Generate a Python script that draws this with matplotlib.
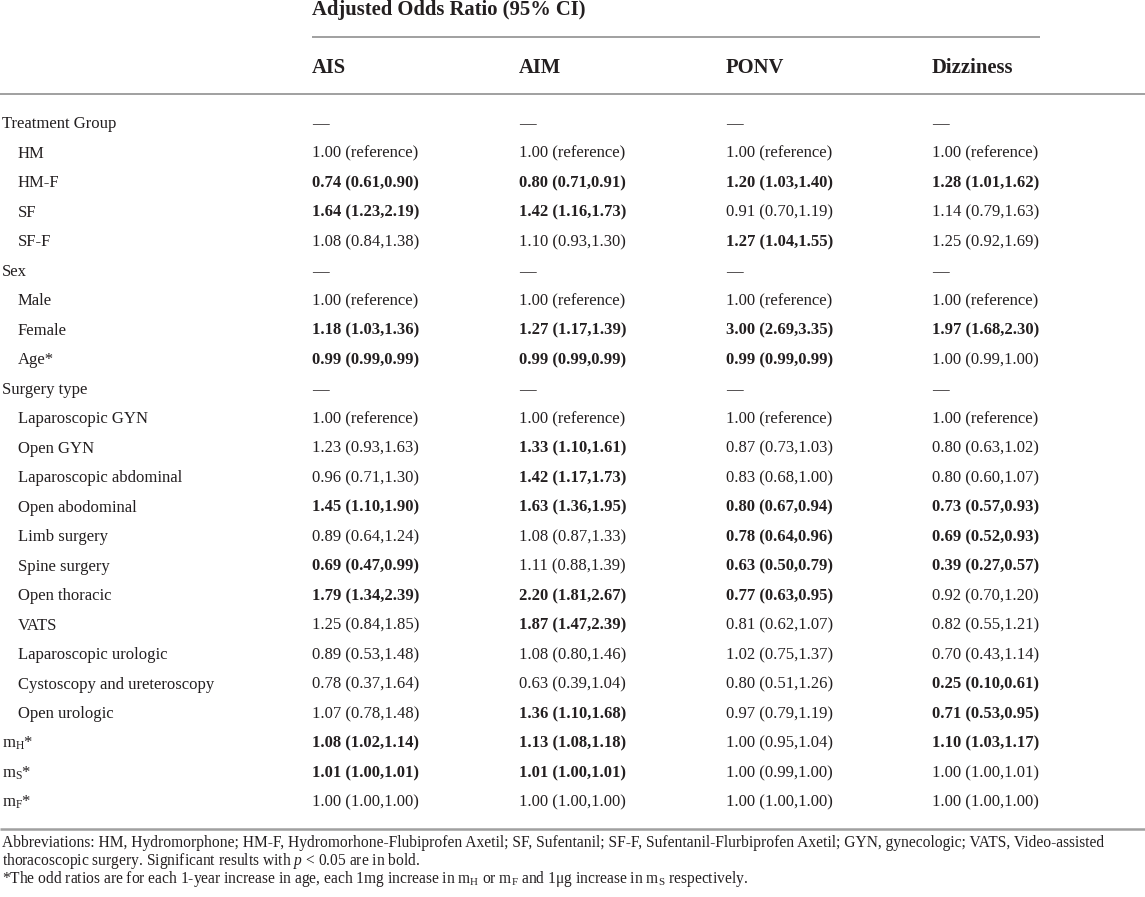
import matplotlib
matplotlib.use("Agg")
import matplotlib.pyplot as plt

plt.rcParams['font.family'] = ['Liberation Serif', 'DejaVu Serif']
plt.rcParams['mathtext.fontset'] = 'custom'
plt.rcParams['mathtext.rm'] = 'Liberation Serif'
plt.rcParams['mathtext.it'] = 'Liberation Serif:italic'
plt.rcParams['mathtext.bf'] = 'Liberation Serif:bold'

# ---------------- data ----------------
header_title = "Adjusted Odds Ratio (95% CI)"
columns = ["AIS", "AIM", "PONV", "Dizziness"]

row_labels = [
    "Treatment Group", "HM", "HM-F", "SF", "SF-F",
    "Sex", "Male", "Female", "Age*",
    "Surgery type", "Laparoscopic GYN", "Open GYN", "Laparoscopic abdominal",
    "Open abodominal", "Limb surgery", "Spine surgery", "Open thoracic", "VATS",
    "Laparoscopic urologic", "Cystoscopy and ureteroscopy", "Open urologic",
    r"m$_\mathregular{H}$*", r"m$_\mathregular{S}$*", r"m$_\mathregular{F}$*",
]
row_indent = [0, 1, 1, 1, 1, 0, 1, 1, 1, 0, 1, 1, 1, 1, 1, 1, 1, 1, 1, 1, 1, 0, 0, 0]

ais = ["—", "1.00 (reference)", "0.74 (0.61,0.90)", "1.64 (1.23,2.19)", "1.08 (0.84,1.38)",
       "—", "1.00 (reference)", "1.18 (1.03,1.36)", "0.99 (0.99,0.99)",
       "—", "1.00 (reference)", "1.23 (0.93,1.63)", "0.96 (0.71,1.30)", "1.45 (1.10,1.90)",
       "0.89 (0.64,1.24)", "0.69 (0.47,0.99)", "1.79 (1.34,2.39)", "1.25 (0.84,1.85)",
       "0.89 (0.53,1.48)", "0.78 (0.37,1.64)", "1.07 (0.78,1.48)",
       "1.08 (1.02,1.14)", "1.01 (1.00,1.01)", "1.00 (1.00,1.00)"]
ais_bold = [0, 0, 1, 1, 0, 0, 0, 1, 1, 0, 0, 0, 0, 1, 0, 1, 1, 0, 0, 0, 0, 1, 1, 0]

aim = ["—", "1.00 (reference)", "0.80 (0.71,0.91)", "1.42 (1.16,1.73)", "1.10 (0.93,1.30)",
       "—", "1.00 (reference)", "1.27 (1.17,1.39)", "0.99 (0.99,0.99)",
       "—", "1.00 (reference)", "1.33 (1.10,1.61)", "1.42 (1.17,1.73)", "1.63 (1.36,1.95)",
       "1.08 (0.87,1.33)", "1.11 (0.88,1.39)", "2.20 (1.81,2.67)", "1.87 (1.47,2.39)",
       "1.08 (0.80,1.46)", "0.63 (0.39,1.04)", "1.36 (1.10,1.68)",
       "1.13 (1.08,1.18)", "1.01 (1.00,1.01)", "1.00 (1.00,1.00)"]
aim_bold = [0, 0, 1, 1, 0, 0, 0, 1, 1, 0, 0, 1, 1, 1, 0, 0, 1, 1, 0, 0, 1, 1, 1, 0]

ponv = ["—", "1.00 (reference)", "1.20 (1.03,1.40)", "0.91 (0.70,1.19)", "1.27 (1.04,1.55)",
        "—", "1.00 (reference)", "3.00 (2.69,3.35)", "0.99 (0.99,0.99)",
        "—", "1.00 (reference)", "0.87 (0.73,1.03)", "0.83 (0.68,1.00)", "0.80 (0.67,0.94)",
        "0.78 (0.64,0.96)", "0.63 (0.50,0.79)", "0.77 (0.63,0.95)", "0.81 (0.62,1.07)",
        "1.02 (0.75,1.37)", "0.80 (0.51,1.26)", "0.97 (0.79,1.19)",
        "1.00 (0.95,1.04)", "1.00 (0.99,1.00)", "1.00 (1.00,1.00)"]
ponv_bold = [0, 0, 1, 0, 1, 0, 0, 1, 1, 0, 0, 0, 0, 1, 1, 1, 1, 0, 0, 0, 0, 0, 0, 0]

dizziness = ["—", "1.00 (reference)", "1.28 (1.01,1.62)", "1.14 (0.79,1.63)", "1.25 (0.92,1.69)",
             "—", "1.00 (reference)", "1.97 (1.68,2.30)", "1.00 (0.99,1.00)",
             "—", "1.00 (reference)", "0.80 (0.63,1.02)", "0.80 (0.60,1.07)", "0.73 (0.57,0.93)",
             "0.69 (0.52,0.93)", "0.39 (0.27,0.57)", "0.92 (0.70,1.20)", "0.82 (0.55,1.21)",
             "0.70 (0.43,1.14)", "0.25 (0.10,0.61)", "0.71 (0.53,0.95)",
             "1.10 (1.03,1.17)", "1.00 (1.00,1.01)", "1.00 (1.00,1.00)"]
dizziness_bold = [0, 0, 1, 0, 0, 0, 0, 1, 0, 0, 0, 0, 0, 1, 1, 1, 0, 0, 0, 1, 1, 1, 0, 0]

footnotes = [
    "Abbreviations: HM, Hydromorphone; HM-F, Hydromorhone-Flubiprofen Axetil; SF, Sufentanil; "
    "SF-F, Sufentanil-Flurbiprofen Axetil; GYN, gynecologic; VATS, Video-assisted",
    r"thoracoscopic surgery. Significant results with $p$ < 0.05 are in bold.",
    r"*The odd ratios are for each 1-year increase in age, each 1mg increase in "
    r"m$_\mathregular{H}$ or m$_\mathregular{F}$ and 1μg increase in m$_\mathregular{S}$ respectively.",
]

# ---------------- layout ----------------
W, H = 1145, 897
fig = plt.figure(figsize=(W / 100, H / 100), dpi=100)
ax = fig.add_axes([0, 0, 1, 1])
ax.set_xlim(0, W)
ax.set_ylim(H, 0)
ax.axis("off")

TXT = "#231f20"
LINE = "#a0a0a0"
FS = 12.0
HFS = 14.9

col_x = [312, 519, 726, 932]
row_base0, row_dy = 128.3, 29.5

ax.text(312, 15.5, header_title, fontsize=HFS, fontweight="bold", color=TXT, va="baseline", ha="left")
ax.plot([312, 1040], [37.5, 37.5], color=LINE, lw=1.4, solid_capstyle="butt")
for x, c in zip(col_x, columns):
    ax.text(x, 73, c, fontsize=HFS, fontweight="bold", color=TXT, va="baseline", ha="left")
ax.plot([0, W], [94, 94], color=LINE, lw=1.4, solid_capstyle="butt")

cols = [(ais, ais_bold), (aim, aim_bold), (ponv, ponv_bold), (dizziness, dizziness_bold)]
for i, (lab, ind) in enumerate(zip(row_labels, row_indent)):
    y = row_base0 + i * row_dy
    ax.text(2 + 15.5 * ind, y, lab, fontsize=FS, color=TXT, va="baseline", ha="left")
    for x, (vals, bolds) in zip(col_x, cols):
        ax.text(x, y, vals[i], fontsize=FS, color=TXT, va="baseline", ha="left",
                fontweight="bold" if bolds[i] else "normal")

ax.plot([0, W], [829, 829], color=LINE, lw=1.8, solid_capstyle="butt")
for k, t in enumerate(footnotes):
    ax.text(2, 847 + k * 18.2, t, fontsize=11.2, color=TXT, va="baseline", ha="left")

fig.savefig("out.png", dpi=100)
